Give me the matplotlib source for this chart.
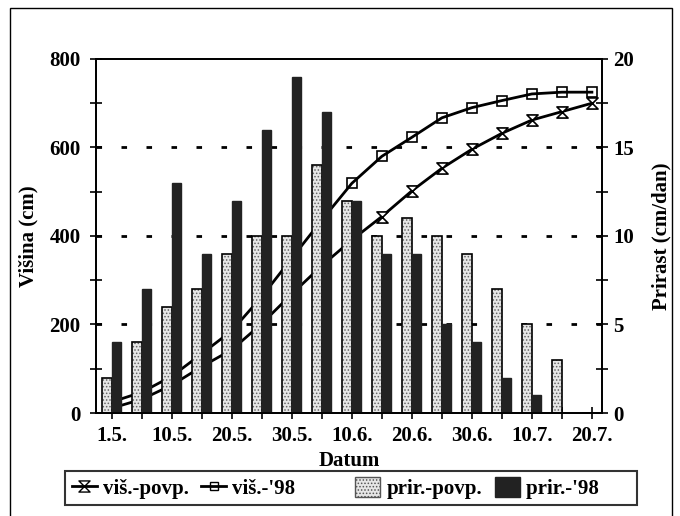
import matplotlib
matplotlib.use('Agg')
import matplotlib.pyplot as plt
from matplotlib.path import Path
from matplotlib.patches import Patch, Rectangle
from matplotlib.lines import Line2D
from matplotlib.ticker import MultipleLocator

plt.rcParams['font.family'] = 'Liberation Serif'
plt.rcParams['font.weight'] = 'bold'

datumi = ['1.5.', '5.5.', '10.5.', '15.5.', '20.5.', '25.5.', '30.5.', '5.6.', '10.6.',
          '15.6.', '20.6.', '25.6.', '30.6.', '5.7.', '10.7.', '15.7.', '20.7.']
# visina (cm)
vis_povp = [11, 31, 63, 105, 143, 202, 269, 333, 391, 444, 502, 553, 596, 632, 662, 681, 700]
vis_98 = [25, 47, 83, 134, 186, 263, 350, 436, 519, 580, 623, 667, 690, 706, 721, 725, 725]
# prirast (cm/dan)
prir_povp = [2, 4, 6, 7, 9, 10, 10, 14, 12, 10, 11, 10, 9, 7, 5, 3, 0]
prir_98 = [4, 7, 13, 9, 12, 16, 19, 17, 12, 9, 9, 5, 4, 2, 1, 0, 0]

x = list(range(len(datumi)))
w = 0.32

# hourglass marker
pesc = Path([(-1, -1), (1, -1), (-1, 1), (1, 1), (-1, -1)],
            [Path.MOVETO, Path.LINETO, Path.LINETO, Path.LINETO, Path.CLOSEPOLY])

fig = plt.figure(figsize=(6.8, 5.16), dpi=100)
ax1 = fig.add_axes([0.141, 0.1996, 0.744, 0.6861])
ax2 = ax1.twinx()

for g in [200, 400, 600]:
    ax1.axhline(g, color='black', lw=2, ls=(0, (2, 7)), zorder=0)

ax1.plot(x, vis_povp, color='black', lw=2, marker=pesc, ms=8, mfc='white', mec='black', mew=1.2)
ax1.plot(x, vis_98, color='black', lw=2, marker='s', ms=7, mfc='none', mec='black', mew=1.2)

xs1 = [i - w / 2 for i in x]
xs2 = [i + w / 2 for i in x]
plt.rcParams['hatch.linewidth'] = 0.7
ax2.bar(xs1, prir_povp, width=w, color='#e6e6e6', hatch='.....', edgecolor='#666666', lw=0)
ax2.bar(xs1, prir_povp, width=w, color='none', edgecolor='black', lw=1.2)
ax2.bar(xs2, prir_98, width=w, color='#222222', edgecolor='#222222', lw=1)

ax1.set_xlim(-0.53, 16.33)
ax1.set_ylim(0, 800)
ax2.set_ylim(0, 20)

ax1.set_xticks(x)
ax1.set_xticklabels([d if i % 2 == 0 else '' for i, d in enumerate(datumi)])
ax1.yaxis.set_major_locator(MultipleLocator(200))
ax1.yaxis.set_minor_locator(MultipleLocator(100))
ax2.yaxis.set_major_locator(MultipleLocator(5))
ax2.yaxis.set_minor_locator(MultipleLocator(2.5))

for a in (ax1, ax2):
    a.tick_params(which='both', direction='inout', length=8, width=1.2, labelsize=15)
    for s in a.spines.values():
        s.set_linewidth(1.3)
ax1.tick_params(axis='x', pad=5)
ax1.tick_params(axis='y', pad=7)
ax2.tick_params(axis='y', pad=4)

ax1.set_xlabel('Datum', fontsize=15, fontweight='bold', labelpad=4)
ax1.set_ylabel('Višina (cm)', fontsize=15, fontweight='bold', labelpad=8)
ax2.set_ylabel('Prirast (cm/dan)', fontsize=15, fontweight='bold', labelpad=13)

handles = [
    Line2D([], [], color='black', lw=2, marker=pesc, ms=8, mfc='white', mec='black'),
    Line2D([], [], color='black', lw=2, marker='s', ms=6, mfc='none', mec='black'),
    Patch(facecolor='#e6e6e6', hatch='.....', edgecolor='#555555'),
    Patch(facecolor='#222222', edgecolor='#222222'),
]
leg = fig.legend(handles, ['viš.-povp.', "viš.-'98" + ' ' * 9, 'prir.-povp.', "prir.-'98" + ' ' * 6],
                 loc='center', bbox_to_anchor=(0.516, 0.054), ncol=4, fontsize=15,
                 frameon=True, fancybox=False, handlelength=1.2, handleheight=1.1,
                 handletextpad=0.3, columnspacing=0.6, borderpad=0.3, borderaxespad=0)
leg.get_frame().set_edgecolor('black')
leg.get_frame().set_linewidth(1.5)

fig.patches.append(Rectangle((0.014, -0.05), 0.974, 1.035, transform=fig.transFigure,
                             fill=False, edgecolor='black', lw=1))

fig.savefig('out.png', dpi=100)
